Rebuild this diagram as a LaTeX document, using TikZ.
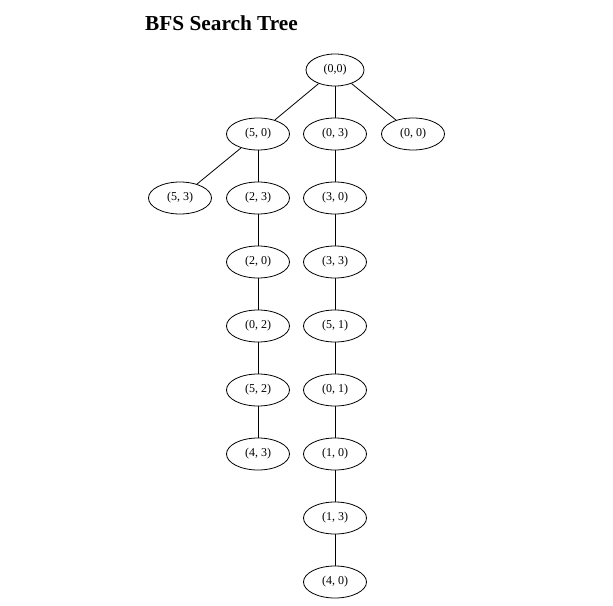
\documentclass[tikz,border=0pt]{standalone}
\usepackage{fontspec}
\setmainfont{Liberation Serif}
\usetikzlibrary{shapes.geometric}
\begin{document}
\begin{tikzpicture}[x=1pt,y=-1pt,
  st/.style={ellipse,draw,line width=0.8pt,inner sep=0pt,minimum width=63,minimum height=32,font=\fontsize{12}{14}\selectfont},
  edge/.style={draw,line width=0.8pt}]
\useasboundingbox (0,0) rectangle (613,605);
\node[anchor=base west,inner sep=0pt,font=\fontsize{21.3}{25}\bfseries\selectfont] (title) at (145,30.5) {BFS Search Tree};
\node[st,minimum width=58] (r) at (335,70) {(0,0)};
\node[st] (a1) at (258,134) {(5, 0)};
\node[st] (b1) at (335,134) {(0, 3)};
\node[st] (c1) at (413,134) {(0, 0)};
\node[st] (a0) at (180,198) {(5, 3)};
\node[st] (a2) at (258,198) {(2, 3)};
\node[st] (b2) at (335,198) {(3, 0)};
\node[st] (a3) at (258,262) {(2, 0)};
\node[st] (b3) at (335,262) {(3, 3)};
\node[st] (a4) at (258,326) {(0, 2)};
\node[st] (b4) at (335,326) {(5, 1)};
\node[st] (a5) at (258,390) {(5, 2)};
\node[st] (b5) at (335,390) {(0, 1)};
\node[st] (a6) at (258,454) {(4, 3)};
\node[st] (b6) at (335,454) {(1, 0)};
\node[st] (b7) at (335,518) {(1, 3)};
\node[st] (b8) at (335,582) {(4, 0)};
\draw[edge] (r) -- (a1);
\draw[edge] (r) -- (b1);
\draw[edge] (r) -- (c1);
\draw[edge] (a1) -- (a0);
\draw[edge] (a1) -- (a2);
\draw[edge] (a2) -- (a3);
\draw[edge] (a3) -- (a4);
\draw[edge] (a4) -- (a5);
\draw[edge] (a5) -- (a6);
\draw[edge] (b1) -- (b2);
\draw[edge] (b2) -- (b3);
\draw[edge] (b3) -- (b4);
\draw[edge] (b4) -- (b5);
\draw[edge] (b5) -- (b6);
\draw[edge] (b6) -- (b7);
\draw[edge] (b7) -- (b8);
\end{tikzpicture}
\end{document}
